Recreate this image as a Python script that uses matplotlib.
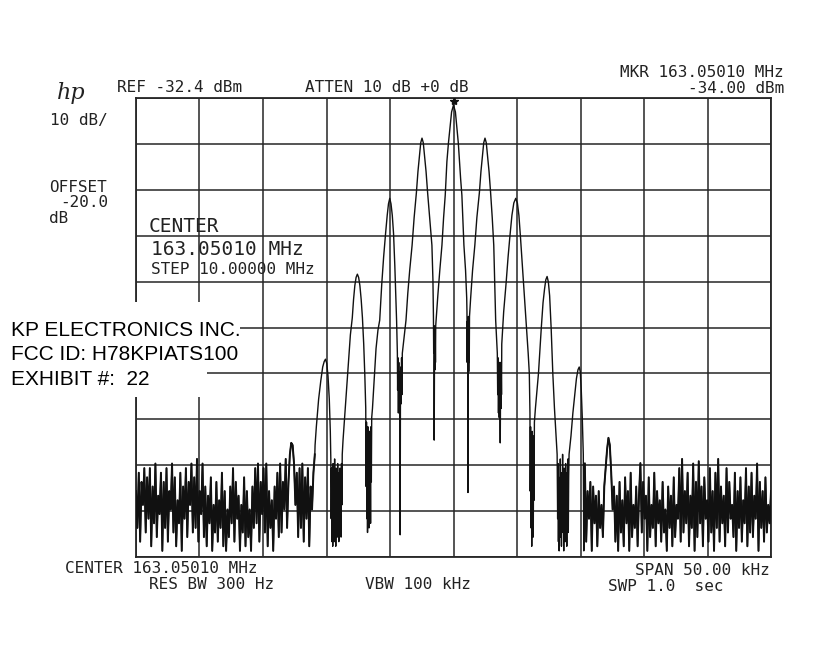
import numpy as np
import matplotlib
matplotlib.use("Agg")
import matplotlib.pyplot as plt
from matplotlib.patches import Rectangle

# analyzer settings
center_mhz = 163.05010
span_khz = 50.0
ref_dbm = -32.4
db_per_div = 10

# trace, as (offset kHz from center, dBm)
trace_left = [
    (-10.90, -108), (-10.80, -104), (-10.62, -98), (-10.45, -94), (-10.30, -91), (-10.18, -89.8),
    (-10.08, -89.3), (-9.98, -90.2), (-9.88, -93), (-9.78, -98), (-9.70, -105), (-9.66, -111),
    (-9.63, -124), (-9.60, -113), (-9.57, -129), (-9.54, -116), (-9.51, -130), (-9.48, -112),
    (-9.45, -126), (-9.42, -118), (-9.39, -129), (-9.36, -111), (-9.33, -127), (-9.30, -116),
    (-9.27, -130), (-9.24, -113), (-9.21, -125), (-9.18, -117), (-9.15, -128), (-9.12, -112),
    (-9.09, -126), (-9.06, -114), (-9.03, -129), (-9.00, -119), (-8.97, -127), (-8.94, -113),
    (-8.91, -124), (-8.88, -115), (-8.85, -128), (-8.82, -112), (-8.79, -121), (-8.76, -110),
    (-8.70, -107), (-8.55, -101), (-8.40, -95), (-8.25, -89), (-8.12, -84), (-7.97, -80.3),
    (-7.87, -76.3), (-7.77, -73.3), (-7.67, -71.5), (-7.57, -70.8), (-7.47, -71.5), (-7.37, -73.3),
    (-7.27, -76.3), (-7.17, -80.3), (-7.07, -86), (-6.98, -93), (-6.91, -100),
    (-6.88, -117), (-6.85, -103), (-6.82, -124), (-6.79, -106), (-6.77, -127), (-6.74, -104),
    (-6.71, -121), (-6.68, -108), (-6.65, -126), (-6.62, -105), (-6.59, -119), (-6.56, -110),
    (-6.53, -125), (-6.50, -104), (-6.47, -116), (-6.44, -102),
    (-6.38, -100), (-6.25, -94), (-6.10, -87), (-5.95, -83), (-5.81, -80.8), (-5.65, -73),
    (-5.50, -67), (-5.35, -62), (-5.22, -58), (-5.12, -55.5), (-5.02, -54.3), (-4.92, -55.5),
    (-4.82, -58), (-4.72, -62), (-4.62, -69), (-4.55, -75), (-4.48, -81), (-4.42, -88),
    (-4.40, -96), (-4.37, -89), (-4.34, -101), (-4.31, -90), (-4.28, -100), (-4.25, -92),
    (-4.22, -102), (-4.20, -127.5), (-4.18, -100), (-4.15, -91), (-4.12, -99), (-4.09, -89),
    (-4.06, -97), (-4.03, -88),
    (-3.95, -86), (-3.85, -83.5), (-3.74, -80.8), (-3.60, -75), (-3.45, -70), (-3.26, -64.5),
    (-3.10, -58.5), (-2.92, -53), (-2.80, -48.5), (-2.68, -45), (-2.58, -42.2), (-2.48, -41.2),
    (-2.38, -42.2), (-2.28, -45), (-2.16, -48.5), (-2.04, -53), (-1.88, -58.5), (-1.70, -64.5),
    (-1.62, -72), (-1.58, -80),
    (-1.56, -88), (-1.54, -82), (-1.52, -106.9), (-1.50, -91), (-1.48, -83), (-1.46, -91.6),
    (-1.44, -84), (-1.42, -90), (-1.40, -82),
]

trace_right = [
    (-1.30, -78), (-1.23, -75.3), (-1.08, -70), (-0.91, -64.5), (-0.78, -58.5), (-0.65, -53.6),
    (-0.52, -46.3), (-0.40, -42.3), (-0.28, -39.1), (-0.15, -35.5), (0.00, -34.0), (0.15, -35.5),
    (0.27, -39.1), (0.38, -42.3), (0.47, -46.3), (0.56, -50), (0.66, -53.6), (0.82, -64.5),
    (0.95, -70), (1.04, -76),
    (1.06, -79), (1.08, -90), (1.10, -81), (1.12, -92.7), (1.14, -118.3), (1.16, -91),
    (1.18, -80), (1.20, -92), (1.22, -83), (1.24, -90), (1.26, -80),
    (1.35, -76), (1.50, -70), (1.68, -64.5), (1.84, -58.5), (2.04, -53), (2.16, -48.5),
    (2.28, -45), (2.38, -42.2), (2.48, -41.2), (2.58, -42.2), (2.68, -45), (2.80, -48.5),
    (2.92, -53), (3.05, -58.5), (3.17, -64.5), (3.24, -72), (3.32, -80.8), (3.45, -88),
    (3.48, -97), (3.51, -89), (3.54, -101), (3.57, -91), (3.60, -102), (3.63, -90),
    (3.66, -99), (3.68, -107.5), (3.70, -98), (3.72, -90), (3.74, -100), (3.76, -92),
    (3.78, -97), (3.80, -86),
    (3.95, -79), (4.14, -72.8), (4.30, -67), (4.44, -62.6), (4.60, -58), (4.75, -55.3),
    (4.90, -54.3), (5.03, -55.3), (5.15, -58), (5.27, -62.6), (5.40, -68), (5.51, -72.8),
    (5.63, -77.5), (5.76, -82.6), (5.88, -88), (5.97, -92.4), (6.02, -101),
    (6.04, -118), (6.07, -104), (6.10, -126), (6.13, -107), (6.16, -130), (6.19, -105),
    (6.22, -123), (6.25, -109), (6.28, -128), (6.31, -106), (6.34, -120), (6.37, -103),
    (6.45, -100), (6.58, -96), (6.69, -92.4), (6.91, -82.6), (7.05, -77), (7.17, -74),
    (7.27, -72), (7.37, -71.3), (7.47, -72.5), (7.57, -75.5), (7.69, -82.6), (7.82, -92.4),
    (7.95, -100), (8.08, -106), (8.16, -110),
    (8.20, -124), (8.23, -112), (8.26, -129), (8.29, -115), (8.32, -131), (8.35, -117),
    (8.38, -126), (8.41, -111), (8.44, -128), (8.47, -119), (8.50, -130), (8.53, -114),
    (8.56, -125), (8.59, -110), (8.62, -127), (8.65, -118), (8.68, -131), (8.71, -113),
    (8.74, -124), (8.77, -116), (8.80, -129), (8.83, -112), (8.86, -126), (8.89, -117),
    (8.92, -130), (8.95, -114), (8.98, -123), (9.01, -111), (9.04, -127), (9.07, -115),
    (9.10, -110),
    (9.25, -106), (9.40, -101), (9.55, -97), (9.68, -93.5), (9.80, -91.6), (9.90, -91.0),
    (9.98, -92), (10.06, -96), (10.14, -102), (10.22, -110), (10.26, -131), (10.30, -112),
]

# noise floor sweep points, evenly spaced over these ranges
noise_left_range = (-25.0, -10.92)
noise_left_dbm = [
    -118, -126, -114, -129, -116, -121, -113, -127, -115, -124,
    -113, -130, -117, -125, -112, -128, -119, -123, -114, -131,
    -116, -126, -113, -129, -118, -122, -112, -127, -115, -130,
    -120, -125, -114, -131, -117, -124, -113, -128, -116, -121,
    -112, -127, -115, -126, -111, -129, -118, -123, -112, -128,
    -117, -130, -119, -125, -115, -131, -121, -127, -116, -129,
    -120, -126, -114, -130, -118, -131, -122, -128, -117, -125,
    -113, -129, -116, -124, -119, -131, -121, -127, -115, -130,
    -118, -128, -122, -131, -117, -126, -113, -125, -112, -129,
    -116, -123, -113, -127, -112, -130, -118, -126, -120, -131,
    -117, -124, -114, -128, -112, -127, -116, -122, -111, -126,
    -116, -110, -107.5, -108, -112, -121, -114, -128, -113, -126,
    -112, -129, -115, -124, -113, -130, -117, -122, -114, -110,
]
noise_right_range = (10.34, 25.0)
noise_right_dbm = [
    -112, -129, -118, -124, -116, -131, -117, -125, -119, -130,
    -118, -126, -121, -128, -117, -113, -109, -106.4, -108, -114,
    -122, -117, -129, -119, -131, -116, -127, -120, -130, -115,
    -125, -118, -131, -114, -128, -121, -126, -117, -130, -119,
    -111.9, -127, -116, -124, -119, -131, -115, -128, -121, -126,
    -114, -130, -118, -125, -120, -129, -116, -127, -122, -131,
    -117, -126, -119, -130, -115, -128, -121, -124, -113, -129,
    -111, -127, -118, -125, -114, -130, -119, -126, -112, -131,
    -116, -128, -111.5, -125, -117, -130, -115, -124, -120, -129,
    -113, -127, -118, -131, -114, -126, -111, -129, -117, -125,
    -119, -130, -113, -127, -116, -124, -121, -128, -114, -131,
    -118, -126, -115, -129, -120, -125, -113, -130, -117, -127,
    -114, -128, -119, -124, -112, -131, -116, -126, -118, -129,
    -115, -127, -121, -125, -118,
]

marker_khz = 0.0
marker_dbm = -34.0

W, H = 819, 650
fig = plt.figure(figsize=(W / 100, H / 100), dpi=100)
fig.patch.set_facecolor("white")

# graticule box in pixels: left 136, right 771, top 98, bottom 557
ax = fig.add_axes([136 / W, 1 - 557.3 / H, (771 - 136) / W, (557.3 - 97.7) / H])
ax.set_xlim(-span_khz / 2, span_khz / 2)
ax.set_ylim(ref_dbm - 10 * db_per_div, ref_dbm)
ax.set_xticks(np.linspace(-span_khz / 2, span_khz / 2, 11))
ax.set_yticks(np.linspace(ref_dbm - 10 * db_per_div, ref_dbm, 11))
ax.tick_params(length=0, labelbottom=False, labelleft=False)
ax.grid(True, color="#262626", lw=1.1)
for sp in ax.spines.values():
    sp.set_color("#262626")
    sp.set_linewidth(1.3)

nl_x = np.linspace(noise_left_range[0], noise_left_range[1], len(noise_left_dbm))
nr_x = np.linspace(noise_right_range[0], noise_right_range[1], len(noise_right_dbm))
tl_x, tl_y = zip(*trace_left)
tr_x, tr_y = zip(*trace_right)
xs = np.concatenate([nl_x, tl_x, tr_x, nr_x])
ys = np.concatenate([noise_left_dbm, tl_y, tr_y, noise_right_dbm])
ax.plot(xs, ys, color="#111111", lw=1.0, zorder=3)
# the noise floor prints heavier on the plotter
ax.plot(nl_x, noise_left_dbm, color="#111111", lw=1.4, zorder=3)
ax.plot(nr_x, noise_right_dbm, color="#111111", lw=1.4, zorder=3)
ax.plot([marker_khz], [marker_dbm + 0.8], marker="*", color="#111111", ms=6, zorder=4)


def put(x, y, s, size=11.5, ha="left", **kw):
    kw.setdefault("family", "DejaVu Sans Mono")
    kw.setdefault("color", "#222222")
    fig.text(x / W, 1 - y / H, s, fontsize=size, ha=ha, va="baseline", **kw)


# analyzer annotations
put(57, 99, "hp", size=16, family="DejaVu Serif", style="italic")
put(180, 92, "REF -32.4 dBm", ha="center")
put(387, 92, "ATTEN 10 dB +0 dB", ha="center")
put(784, 77, "MKR 163.05010 MHz", ha="right")
put(784, 93, "-34.00 dBm", ha="right")
put(50, 125, "10 dB/")
put(49, 192, "OFFSET")
put(60, 207, "-20.0")
put(49, 223, "dB")
put(149, 232, "CENTER", size=14)
put(151, 255, "163.05010 MHz", size=14)
put(151, 274, "STEP 10.00000 MHz")
put(161, 573, "CENTER 163.05010 MHz", ha="center")
put(212, 589, "RES BW 300 Hz", ha="center")
put(418, 589, "VBW 100 kHz", ha="center")
put(702, 575, "SPAN 50.00 kHz", ha="center")
put(666, 591, "SWP 1.0  sec", ha="center")

# pasted exhibit label with white background
for x0, y0, x1, y1 in [(0, 302, 240, 366), (0, 366, 207, 397)]:
    fig.patches.append(Rectangle((x0 / W, 1 - y1 / H), (x1 - x0) / W, (y1 - y0) / H,
                                 transform=fig.transFigure, facecolor="white",
                                 edgecolor="none", zorder=5))
put(11, 336, "KP ELECTRONICS INC.", size=15, family="Liberation Sans", color="black", zorder=6)
put(11, 360, "FCC ID: H78KPIATS100", size=15, family="Liberation Sans", color="black", zorder=6)
put(11, 385, "EXHIBIT #:  22", size=15, family="Liberation Sans", color="black", zorder=6)

fig.savefig("out.png", dpi=100)
